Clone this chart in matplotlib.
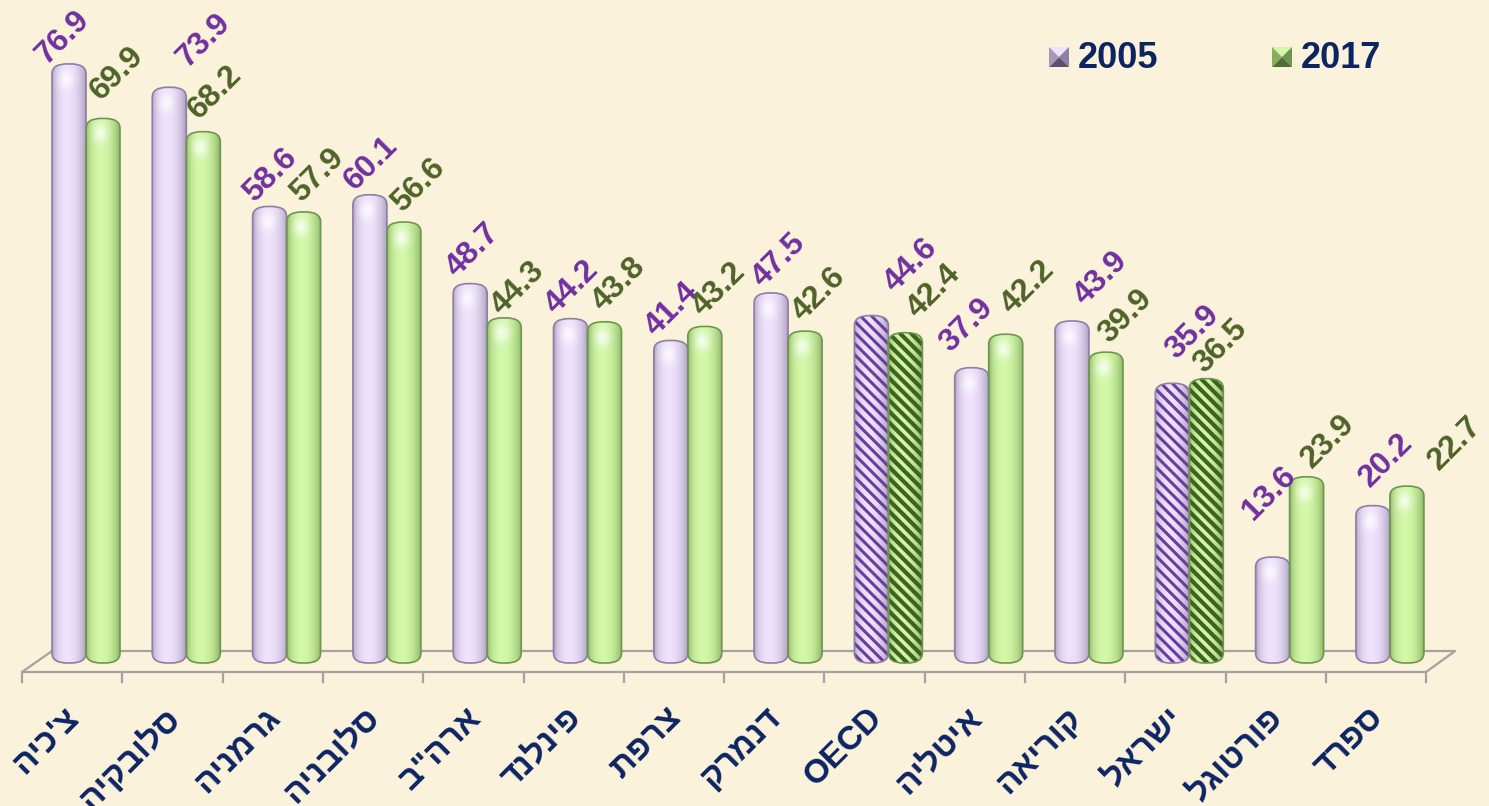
import numpy as np
import matplotlib.pyplot as plt
from matplotlib.patches import FancyBboxPatch, Polygon
from matplotlib.colors import to_rgb

countries = ["צ'כיה", "סלובקיה", "גרמניה", "סלובניה", 'ארה"ב', "פינלנד", "צרפת",
             "דנמרק", "OECD", "איטליה", "קוריאה", "ישראל", "פורטוגל", "ספרד"]
vals_2005 = [76.9, 73.9, 58.6, 60.1, 48.7, 44.2, 41.4, 47.5, 44.6, 37.9, 43.9, 35.9, 13.6, 20.2]
vals_2017 = [69.9, 68.2, 57.9, 56.6, 44.3, 43.8, 43.2, 42.6, 42.4, 42.2, 39.9, 36.5, 23.9, 22.7]
years = ["2005", "2017"]
striped = ["OECD", "ישראל"]

# where each value label sits relative to its bar top, in pixels (right, down)
label_shift = [
    [(-6, -27), (35, -47), (1, -31), (1, -31), (3, -33), (1, -31), (1, -31),
     (8, -33), (39, -50), (-5, -42), (29, -43), (20, -51), (-3, -64), (13, -45)],
    [(14, -45), (12, -39), (14, -37), (14, -37), (14, -30), (14, -37), (14, -37),
     (14, -37), (28, -41), (22, -47), (20, -36), (14, -32), (22, -35), (48, -43)],
]

BG = '#FAF2DB'
NAVY = '#0D2463'
FONT = ['Liberation Sans', 'DejaVu Sans']

# light centre, dark rim, outline, label colour, stripe colour, stripe width
styles = [
    dict(light='#EEE2FC', dark='#A698BA', edge='#8E7FA3', text='#7030A0',
         stripe='#6A3C9E', sw=2.2),
    dict(light='#D2F8A8', dark='#86AE5E', edge='#6F9650', text='#4F6228',
         stripe='#3E6220', sw=3.0),
]

W, H = 1489, 806


def visual(s):
    # matplotlib lays glyphs out left to right, so Hebrew has to be flipped
    if any('\u0590' <= c <= '\u05ff' for c in s):
        return s[::-1]
    return s


def cylinder(light, dark, n=80):
    t = np.linspace(0, 1, n)
    f = np.sin(np.pi * t ** 0.85) ** 0.6
    lo, hi = np.array(to_rgb(dark)), np.array(to_rgb(light))
    return (lo + (hi - lo) * f[:, None])[None, :, :]


def glint(n=40):
    # soft white spot just under the rounded top
    t = np.linspace(0, 1, n)
    xx, yy = np.meshgrid(t, t)
    a = np.exp(-((xx - 0.42) / 0.22) ** 2 - ((yy - 0.45) / 0.28) ** 2) * 0.75
    img = np.ones((n, n, 4))
    img[..., 3] = a
    return img


fig = plt.figure(figsize=(W / 100, H / 100), dpi=100, facecolor=BG)
ax = fig.add_axes([35.85 / W, (H - 663) / H, 1404.2 / W, 646.6 / H])
ax.set_facecolor(BG)
ax.set_xlim(-0.5, 13.5)
ax.set_ylim(0, 83)
ax.axis('off')

# pixel size of one data unit, used for the rounded caps
px_x = 1404.2 / 14
px_y = 646.6 / 83
bw = 34 / px_x
rx = 15 / px_x
asp = 10 / (rx * px_y)

for i, name in enumerate(countries):
    for k, vals in enumerate([vals_2005, vals_2017]):
        st = styles[k]
        v = vals[i]
        x0 = i - bw if k == 0 else i
        box = dict(boxstyle="round,pad=0,rounding_size=%f" % rx, mutation_aspect=asp)
        outline = FancyBboxPatch((x0, 0), bw, v, fc='none', ec=st['edge'], lw=1.2,
                                 zorder=4, clip_on=False, **box)
        ax.add_patch(outline)
        im = ax.imshow(cylinder(st['light'], st['dark']), extent=[x0, x0 + bw, 0, v],
                       aspect='auto', interpolation='bicubic', zorder=2)
        im.set_clip_path(outline)
        if name in striped:
            with plt.rc_context({'hatch.linewidth': st['sw']}):
                hatch = FancyBboxPatch((x0, 0), bw, v, fc='none', ec=st['stripe'], lw=0,
                                       hatch='\\' * 3, zorder=3, clip_on=False, **box)
            ax.add_patch(hatch)
        else:
            top = 34 / px_y
            gl = ax.imshow(glint(), extent=[x0, x0 + bw, v - top, v], aspect='auto',
                           interpolation='bicubic', zorder=3)
            gl.set_clip_path(outline)
        sx, sy = label_shift[k][i]
        ax.annotate(f"{v:.1f}", xy=(x0 + bw / 2, v), xytext=(sx * 0.72, -sy * 0.72),
                    textcoords='offset points', rotation=45, rotation_mode='anchor',
                    ha='center', va='center', fontsize=23, fontweight='bold',
                    color=st['text'], family=FONT, zorder=5, annotation_clip=False)
    ax.text(i - 0.22, -5.0, visual(name), rotation=45, rotation_mode='anchor',
            ha='right', va='top', fontsize=24, fontweight='bold', color=NAVY,
            family=FONT, clip_on=False)

# 3-D floor outline and the category ticks on its front edge
back_l, back_r = (-0.339, 1.54), (13.65, 1.54)
front_l, front_r = (-0.638, -1.155), (13.36, -1.155)
floor = [back_l, back_r, front_r, front_l, back_l]
ax.plot([p[0] for p in floor], [p[1] for p in floor], color='#A3A3A3', lw=1.6,
        zorder=1, clip_on=False)
for k in range(len(countries) + 1):
    xt = front_l[0] + k
    ax.plot([xt, xt], [front_l[1], -2.44], color='#A3A3A3', lw=1.6, clip_on=False)


def fig_xy(x, y):
    return (x / W, 1 - y / H)


# legend with small pyramid swatches
for k, (label, lx) in enumerate(zip(years, [1049, 1272])):
    st = styles[k]
    x0, y0, s = lx, 47, 20
    cx, cy = x0 + s / 2, y0 + s / 2
    corners = [(x0, y0), (x0 + s, y0), (x0 + s, y0 + s), (x0, y0 + s)]
    shades = [st['light'], st['edge'], '#5A5070' if k == 0 else '#4E6E34', st['dark']]
    for j in range(4):
        tri = [fig_xy(*corners[j]), fig_xy(*corners[(j + 1) % 4]), fig_xy(cx, cy)]
        fig.add_artist(Polygon(tri, closed=True, fc=shades[j], ec='none',
                               transform=fig.transFigure))
    fig.text(*fig_xy(lx + 29, 58), label, ha='left', va='center', fontsize=26,
             fontweight='bold', color=NAVY, family=FONT)

fig.savefig('out.png', dpi=100, facecolor=BG)
